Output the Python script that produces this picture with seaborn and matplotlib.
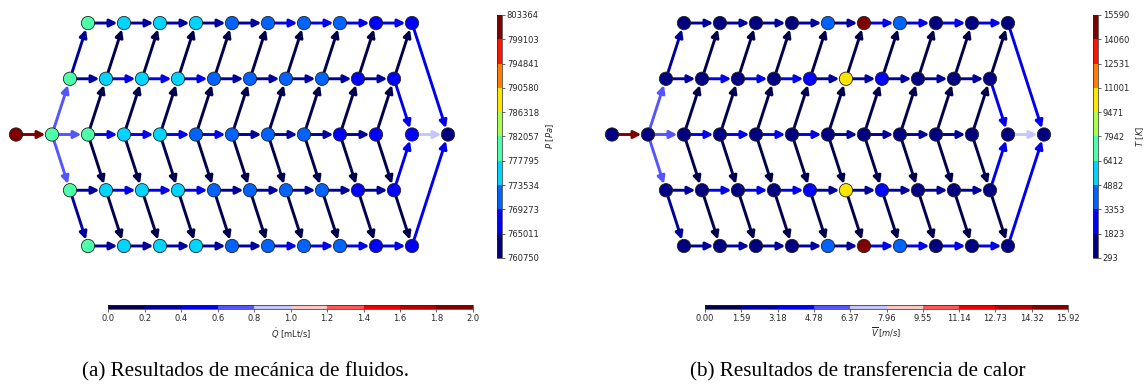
import matplotlib
matplotlib.use('Agg')
import matplotlib.pyplot as plt
import pandas as pd
import seaborn as sns
from matplotlib.cm import ScalarMappable
from matplotlib.colors import Normalize
from matplotlib.patches import FancyArrowPatch

# ---------------------------------------------------------------------------
# Data. The network is symmetric about the centre row,
# so "outer" = rows 1/5, "inner" = rows 2/4, "center" = row 3.
# ---------------------------------------------------------------------------

# (a) pressure at the nodes [Pa]
p_inlet = 803364
p_outer = [779500, 776900, 775700, 774100, 772400, 771000, 769900, 769600, 767800, 766700]
p_inner = [780300, 777500, 776200, 774600, 772800, 771400, 770200, 769700, 768200, 767000]
p_center = [781200, 779600, 777000, 775400, 773200, 771800, 770600, 769500, 768400, 767300]
p_merge = 766200
p_outlet = 760750
p_ticks = ['760750', '765011', '769273', '773534', '777795', '782057',
           '786318', '790580', '794841', '799103', '803364']

# (a) volumetric flow in the branches [mLt/s]
q_inlet = 2.0
q_outer = [0.27, 0.29, 0.32, 0.35, 0.38, 0.42, 0.46, 0.50, 0.53]
q_inner = [0.30, 0.45, 0.44, 0.42, 0.38, 0.36, 0.35, 0.34, 0.33]
q_center = [0.67, 0.52, 0.49, 0.46, 0.42, 0.38, 0.34, 0.31, 0.28]
q_diag_center = [0.67, 0.10, 0.09, 0.08, 0.07, 0.06, 0.05, 0.05, 0.04, 0.04]
q_diag_inner = [0.27, 0.03, 0.03, 0.03, 0.04, 0.04, 0.04, 0.04, 0.03, 0.02]
q_merge_in = 0.45
q_merge_out = 0.90
q_outer_out = 0.55
q_ticks = ['0.0', '0.2', '0.4', '0.6', '0.8', '1.0', '1.2', '1.4', '1.6', '1.8', '2.0']

# (b) temperature at the nodes [K]
t_inlet = 293
t_outer = [420, 460, 520, 640, 4100, 15590, 4050, 1300, 900, 700]
t_inner = [400, 450, 500, 600, 2600, 10300, 2550, 1200, 850, 650]
t_center = [380, 410, 450, 480, 520, 560, 600, 620, 640, 650]
t_merge = 660
t_outlet = 700
t_ticks = ['293', '1823', '3353', '4882', '6412', '7942',
           '9471', '11001', '12531', '14060', '15590']

# (b) mean velocity in the branches [m/s]
v_inlet = 15.92
v_outer = [2.15, 2.31, 2.55, 2.79, 3.02, 3.34, 3.66, 3.98, 4.22]
v_inner = [2.39, 3.58, 3.50, 3.34, 3.02, 2.87, 2.79, 2.71, 2.63]
v_center = [5.33, 4.14, 3.90, 3.66, 3.34, 3.02, 2.71, 2.47, 2.23]
v_diag_center = [5.33, 0.80, 0.72, 0.64, 0.56, 0.48, 0.40, 0.40, 0.32, 0.32]
v_diag_inner = [2.15, 0.24, 0.24, 0.24, 0.32, 0.32, 0.32, 0.32, 0.24, 0.16]
v_merge_in = 3.58
v_merge_out = 7.16
v_outer_out = 4.38
v_ticks = ['0.00', '1.59', '3.18', '4.78', '6.37', '7.96',
           '9.55', '11.14', '12.73', '14.32', '15.92']

NODE_CMAP = plt.get_cmap('jet', 10)
EDGE_CMAP = plt.get_cmap('seismic', 10)


def build_nodes(inlet, outer, inner, center, merge, outlet):
    # lattice: centre row at integer columns, rows shifted half a column per level
    rows = [('in', -1.0, 0, inlet)]
    for c in range(10):
        rows.append((f'c{c}', c, 0, center[c]))
        rows.append((f'u1_{c}', c + 0.5, 1, inner[c]))
        rows.append((f'd1_{c}', c + 0.5, -1, inner[c]))
        rows.append((f'u2_{c}', c + 1.0, 2, outer[c]))
        rows.append((f'd2_{c}', c + 1.0, -2, outer[c]))
    rows.append(('m', 10.0, 0, merge))
    rows.append(('out', 11.0, 0, outlet))
    return pd.DataFrame(rows, columns=['node', 'x', 'y', 'value'])


def build_edges(inlet, outer, inner, center, diag_center, diag_inner,
                merge_in, merge_out, outer_out):
    e = [('in', 'c0', inlet)]
    for c in range(9):
        e.append((f'c{c}', f'c{c + 1}', center[c]))
        for s in ('u', 'd'):
            e.append((f'{s}1_{c}', f'{s}1_{c + 1}', inner[c]))
            e.append((f'{s}2_{c}', f'{s}2_{c + 1}', outer[c]))
    for c in range(10):
        for s in ('u', 'd'):
            e.append((f'c{c}', f'{s}1_{c}', diag_center[c]))
            e.append((f'{s}1_{c}', f'{s}2_{c}', diag_inner[c]))
    for s in ('u', 'd'):
        e.append((f'{s}1_9', 'm', merge_in))
        e.append((f'{s}2_9', 'out', outer_out))
    e.append(('m', 'out', merge_out))
    return pd.DataFrame(e, columns=['source', 'target', 'value'])


def draw_network(ax, nodes, edges, node_range, edge_range):
    pos = nodes.set_index('node')[['x', 'y']]
    edge_norm = Normalize(*edge_range)
    for _, row in edges.iterrows():
        a = tuple(pos.loc[row['source']])
        b = tuple(pos.loc[row['target']])
        arrow = FancyArrowPatch(a, b, arrowstyle='-|>', mutation_scale=11,
                                lw=2.1, color=EDGE_CMAP(edge_norm(row['value'])),
                                shrinkA=4.5, shrinkB=4.8, zorder=1)
        ax.add_patch(arrow)
    sns.scatterplot(data=nodes, x='x', y='y', hue='value', palette=NODE_CMAP,
                    hue_norm=Normalize(*node_range), s=92, edgecolor='#222222',
                    linewidth=0.6, legend=False, ax=ax, zorder=3)
    ax.set_xlim(-1.3, 11.3)
    ax.set_ylim(-2.3, 2.3)
    ax.set_axis_off()


def vertical_bar(fig, rect, vrange, labels, title):
    cax = fig.add_axes(rect)
    sm = ScalarMappable(norm=Normalize(*vrange), cmap=NODE_CMAP)
    ticks = [vrange[0] + i * (vrange[1] - vrange[0]) / 10 for i in range(11)]
    cb = fig.colorbar(sm, cax=cax, ticks=ticks)
    cb.ax.set_yticklabels(labels)
    cb.ax.tick_params(labelsize=6, length=2, width=0.5, pad=1.5)
    cb.outline.set_linewidth(0.5)
    cb.set_label(title, fontsize=6, labelpad=3.5)
    return cb


def horizontal_bar(fig, rect, vrange, labels, title):
    cax = fig.add_axes(rect)
    sm = ScalarMappable(norm=Normalize(*vrange), cmap=EDGE_CMAP)
    ticks = [vrange[0] + i * (vrange[1] - vrange[0]) / 10 for i in range(11)]
    cb = fig.colorbar(sm, cax=cax, ticks=ticks, orientation='horizontal')
    cb.ax.set_xticklabels(labels)
    cb.ax.tick_params(labelsize=6, length=2, width=0.5, pad=1.5)
    cb.outline.set_linewidth(0.5)
    cb.set_label(title, fontsize=6, labelpad=2)
    return cb


sns.set_style('white')
fig = plt.figure(figsize=(11.44, 3.90), dpi=100)

ax_a = fig.add_axes([0.00455, 0.3264, 0.3965, 0.6574])
ax_b = fig.add_axes([0.5255, 0.3264, 0.3965, 0.6574])

nodes_a = build_nodes(p_inlet, p_outer, p_inner, p_center, p_merge, p_outlet)
edges_a = build_edges(q_inlet, q_outer, q_inner, q_center, q_diag_center,
                      q_diag_inner, q_merge_in, q_merge_out, q_outer_out)
draw_network(ax_a, nodes_a, edges_a, (760750, 803364), (0.0, 2.0))

nodes_b = build_nodes(t_inlet, t_outer, t_inner, t_center, t_merge, t_outlet)
edges_b = build_edges(v_inlet, v_outer, v_inner, v_center, v_diag_center,
                      v_diag_inner, v_merge_in, v_merge_out, v_outer_out)
draw_network(ax_b, nodes_b, edges_b, (293, 15590), (0.0, 15.92))

vertical_bar(fig, [0.4344, 0.3385, 0.0044, 0.6231], (760750, 803364), p_ticks, r'$P\ [Pa]$')
vertical_bar(fig, [0.9554, 0.3385, 0.0044, 0.6231], (293, 15590), t_ticks, r'$T\ [K]$')
horizontal_bar(fig, [0.0948, 0.2077, 0.3186, 0.0103], (0.0, 2.0), q_ticks, r'$\dot{Q}$ [mLt/s]')
horizontal_bar(fig, [0.6163, 0.2077, 0.3173, 0.0103], (0.0, 15.92), v_ticks, r'$\overline{V}\,[m/s]$')

fig.text(246 / 1144, 0.046, '(a) Resultados de mecánica de fluidos.', ha='center', va='center',
         fontsize=15.2, family='Liberation Serif', color='black')
fig.text(858 / 1144, 0.046, '(b) Resultados de transferencia de calor', ha='center', va='center',
         fontsize=15.2, family='Liberation Serif', color='black')

fig.savefig('out.png', dpi=100)
